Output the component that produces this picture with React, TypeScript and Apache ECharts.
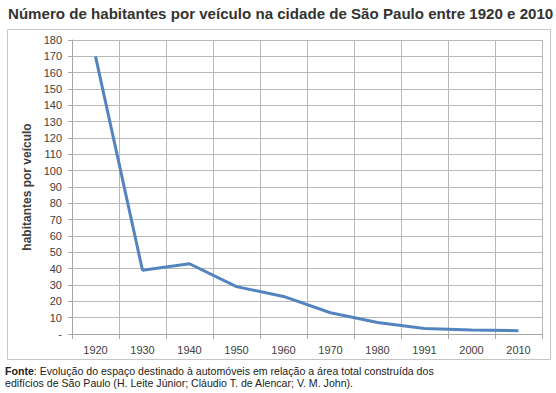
import React, { useEffect, useRef } from "react";
import * as echarts from "echarts";

const years = ["1920", "1930", "1940", "1950", "1960", "1970", "1980", "1991", "2000", "2010"];
const habitantesPorVeiculo = [170, 39, 43, 29, 23, 13, 7, 3.3, 2.5, 2];
const titleText = "Número de habitantes por veículo na cidade de São Paulo entre 1920 e 2010";
const yAxisName = "habitantes por veículo";
const sourceLine1 = "Evolução do espaço destinado à automóveis em relação a área total construída dos";
const sourceLine2 = "edifícios de São Paulo (H. Leite Júnior; Cláudio T. de Alencar; V. M. John).";

export default function App() {
  const ref = useRef<HTMLDivElement>(null);
  useEffect(() => {
    if (!ref.current) return;
    const chart = echarts.init(ref.current, undefined, { renderer: "svg" });
    const font = "Liberation Sans, Arial, sans-serif";
    chart.setOption({
      animation: false,
      backgroundColor: "#ffffff",
      textStyle: { fontFamily: font },
      grid: { left: 72, right: 14, top: 40, bottom: 59, containLabel: false },
      graphic: [
        {
          type: "rect",
          shape: { x: 7.5, y: 29.5, width: 543, height: 330 },
          style: { fill: "none", stroke: "#c6c6c6", lineWidth: 1 },
          z: -1,
        },
        {
          type: "text",
          x: 8,
          y: 13,
          style: {
            text: titleText,
            font: `bold 15.1px ${font}`,
            fill: "#333333",
            textVerticalAlign: "middle",
          },
        },
        {
          type: "text",
          x: 5,
          y: 371,
          style: {
            text: `{b|Fonte}: ${sourceLine1}`,
            font: `10.6px ${font}`,
            fill: "#222222",
            textVerticalAlign: "middle",
            rich: {
              b: { fontWeight: "bold", fontSize: 10.6, fontFamily: font, fill: "#222222" },
            },
          },
        },
        {
          type: "text",
          x: 5,
          y: 383,
          style: {
            text: sourceLine2,
            font: `10.6px ${font}`,
            fill: "#222222",
            textVerticalAlign: "middle",
          },
        },
      ],
      xAxis: {
        type: "category",
        data: years,
        boundaryGap: true,
        axisLine: { show: true, lineStyle: { color: "#a6a6a6" } },
        axisTick: { show: true, length: 5, lineStyle: { color: "#a6a6a6" } },
        splitLine: { show: true, lineStyle: { color: "#b8b8b8", width: 1 } },
        axisLabel: { color: "#404040", fontSize: 11, margin: 10, fontFamily: font },
      },
      yAxis: {
        type: "value",
        min: 0,
        max: 180,
        interval: 10,
        name: yAxisName,
        nameLocation: "middle",
        nameGap: 37,
        nameRotate: 90,
        nameTextStyle: { fontWeight: "bold", fontSize: 12, color: "#404040", fontFamily: font },
        axisLine: { show: true, lineStyle: { color: "#a6a6a6" } },
        axisTick: { show: true, length: 4, lineStyle: { color: "#a6a6a6" } },
        splitLine: { show: true, lineStyle: { color: "#b8b8b8", width: 1 } },
        axisLabel: {
          color: "#404040",
          fontSize: 11,
          margin: 10,
          fontFamily: font,
          formatter: (v: number) => (v === 0 ? "-" : String(v)),
        },
      },
      series: [
        {
          type: "line",
          data: habitantesPorVeiculo,
          showSymbol: false,
          symbol: "none",
          lineStyle: { color: "#5484c0", width: 3 },
        },
      ],
    });
    return () => chart.dispose();
  }, []);
  return <div ref={ref} style={{ width: 556, height: 393, position: "absolute", left: 0, top: 0 }} />;
}
